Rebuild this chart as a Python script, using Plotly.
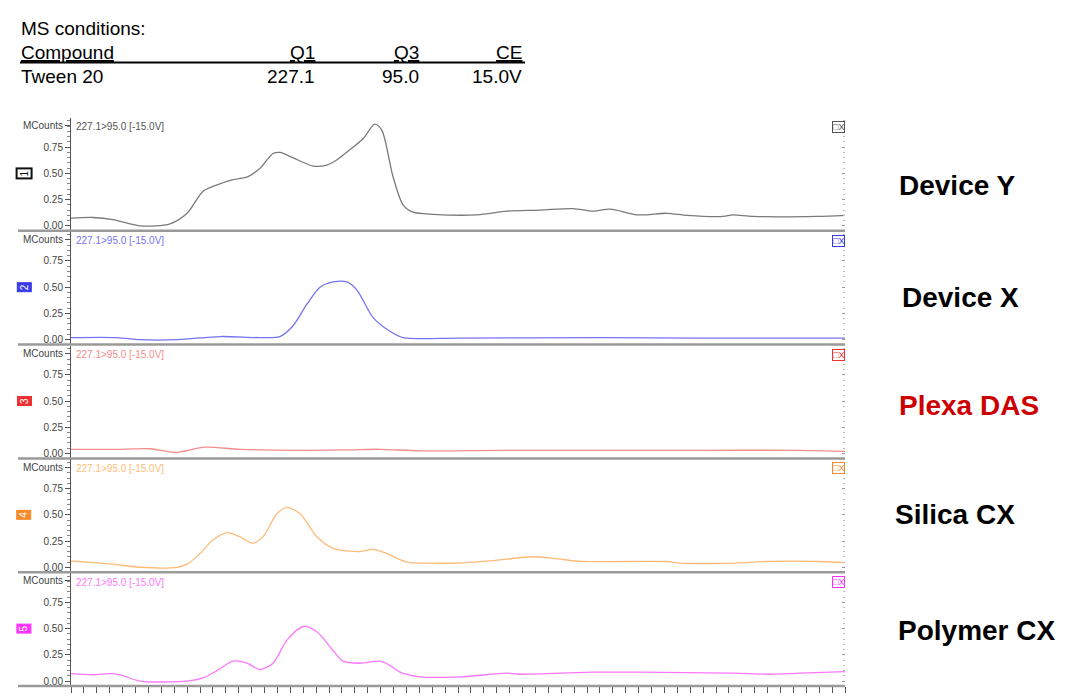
import plotly.graph_objects as go

# ---------------- data (retention time in min, intensity in MCounts) ----------------
samples = ["Device Y", "Device X", "Plexa DAS", "Silica CX", "Polymer CX"]
channel_ids = ["1", "2", "3", "4", "5"]
transition_label = "227.1>95.0 [-15.0V]"

t_devY = [0.0, 0.85, 1.63, 2.67, 3.84, 4.5, 5.12, 5.66, 6.28, 6.86, 7.33, 7.83, 8.1, 8.6, 9.38, 9.92,
          10.31, 10.93, 11.32, 11.78, 12.05, 12.48, 12.87, 13.26, 14.03, 15.74, 16.9, 18.18, 19.46,
          20.23, 20.9, 21.94, 23.1, 23.88, 25.27, 25.66, 26.43, 28.91, 30.0]
i_devY = [0.074, 0.08, 0.06, 0.0, 0.02, 0.12, 0.33, 0.39, 0.44, 0.47, 0.55, 0.69, 0.70, 0.65, 0.57, 0.58,
          0.63, 0.75, 0.83, 0.97, 0.91, 0.47, 0.20, 0.13, 0.11, 0.105, 0.14, 0.15, 0.165,
          0.14, 0.16, 0.105, 0.12, 0.10, 0.09, 0.105, 0.09, 0.09, 0.10]

t_devX = [0.0, 1.78, 2.67, 4.11, 5.78, 7.33, 8.1, 8.6, 9.15, 9.65, 10.16, 10.7, 11.09, 11.71, 12.36,
          12.87, 15.08, 20.5, 24.4, 30.0]
i_devX = [0.02, 0.02, 0.0, 0.0, 0.03, 0.02, 0.03, 0.13, 0.34, 0.50, 0.55, 0.55, 0.47, 0.21, 0.08,
          0.02, 0.015, 0.02, 0.015, 0.015]

t_plexa = [0.0, 1.9, 3.06, 4.03, 5.19, 6.55, 8.88, 10.81, 11.98, 13.53, 16.63, 20.5, 24.38, 28.26, 30.0]
i_plexa = [0.04, 0.04, 0.045, 0.01, 0.06, 0.04, 0.03, 0.035, 0.04, 0.025, 0.03, 0.03, 0.03, 0.03, 0.02]

t_silica = [0.0, 1.12, 1.63, 2.67, 4.11, 4.5, 5.0, 5.5, 6.05, 6.55, 7.05, 7.44, 7.98, 8.37, 8.88, 9.53,
            10.16, 11.2, 11.71, 12.25, 13.02, 14.03, 15.08, 16.24, 17.91, 18.84, 19.84, 23.1, 23.6,
            25.66, 26.98, 29.03, 30.0]
i_silica = [0.06, 0.04, 0.03, 0.0, 0.0, 0.03, 0.13, 0.26, 0.33, 0.29, 0.23, 0.29, 0.51, 0.57, 0.51, 0.29,
            0.18, 0.15, 0.17, 0.13, 0.05, 0.04, 0.04, 0.06, 0.10, 0.08, 0.055, 0.055, 0.04,
            0.04, 0.055, 0.055, 0.045]

t_polymer = [0.0, 0.85, 1.51, 1.9, 2.67, 4.5, 5.12, 5.66, 6.28, 6.82, 7.33, 7.83, 8.37, 9.0, 9.53, 10.16,
             10.54, 11.2, 11.98, 12.36, 12.75, 13.53, 15.08, 16.9, 17.4, 20.23, 22.05, 25.66, 26.98,
             28.26, 30.0]
i_polymer = [0.07, 0.06, 0.07, 0.06, 0.0, 0.0, 0.03, 0.10, 0.19, 0.17, 0.11, 0.17, 0.39, 0.52, 0.47, 0.29,
             0.19, 0.17, 0.19, 0.15, 0.085, 0.04, 0.04, 0.075, 0.065, 0.085, 0.085, 0.075, 0.065,
             0.075, 0.09]

y_tickvals = [0.0, 0.25, 0.5, 0.75]
y_ticktext = ["0.00", "0.25", "0.50", "0.75"]

header_cols = ["Compound", "Q1", "Q3", "CE"]
header_vals = ["Tween 20", "227.1", "95.0", "15.0V"]

# ---------------- styling ----------------
line_colors = ["#7a7a7a", "#7474f2", "#f58c8c", "#ffbb77", "#ff77ff"]
box_colors = ["#111111", "#3a3ae8", "#ee3030", "#f58a2a", "#ff33ff"]
label_colors = ["#000000", "#000000", "#cc0000", "#000000", "#000000"]

W, H = 1065, 697
L, R, T, B = 71, 845, 118, 692          # plot area in pixels
panel_px = [(118, 232), (233, 347), (348, 462), (463, 577), (578, 692)]


def px2x(px):
    return (px - L) / (R - L)


def px2y(py):
    return (B - py) / (B - T)


series_t = [t_devY, t_devX, t_plexa, t_silica, t_polymer]
series_i = [i_devY, i_devX, i_plexa, i_silica, i_polymer]

fig = go.Figure()
layout = dict(
    width=W, height=H,
    margin=dict(l=L, r=W - R, t=T, b=H - B),
    paper_bgcolor="white", plot_bgcolor="white",
    showlegend=False,
    font=dict(family="Liberation Sans, Arial, sans-serif", color="#444"),
)

annotations = []
shapes = []
yr = [-0.047, 1.028]

for k in range(5):
    n = "" if k == 0 else str(k + 1)
    nr = str(k + 6)
    top, bot = panel_px[k]
    dom = [px2y(bot), px2y(top)]
    fig.add_trace(go.Scatter(
        x=series_t[k], y=series_i[k], mode="lines",
        line=dict(color=line_colors[k], width=1.3, shape="spline", smoothing=0.8),
        xaxis="x" + n, yaxis="y" + n, hoverinfo="skip"))
    # invisible trace for right-side tick axis
    fig.add_trace(go.Scatter(x=[0], y=[0], mode="markers", marker=dict(opacity=0),
                             xaxis="x" + n, yaxis="y" + nr, hoverinfo="skip"))
    layout["xaxis" + n] = dict(
        domain=[0, 1], range=[0, 30], anchor="y" + n,
        showticklabels=False, showgrid=False, zeroline=False,
        showline=(k == 4), linecolor="#888", linewidth=1,
        ticks="outside" if k == 4 else "", dtick=0.5, tick0=0, ticklen=6, tickcolor="#555",
        matches="x" if k > 0 else None,
    )
    layout["yaxis" + n] = dict(
        domain=dom, range=yr, anchor="x" + n,
        tickvals=y_tickvals + [0.955], ticktext=y_ticktext + ["MCounts"],
        tickfont=dict(size=10, color="#444", family="Liberation Sans, Arial"),
        ticks="outside", ticklen=5, tickcolor="#555",
        minor=dict(dtick=0.05, tick0=0, ticks="outside", ticklen=3, tickcolor="#888"),
        showline=True, linecolor="#555", linewidth=1,
        showgrid=False, zeroline=False,
    )
    layout["yaxis" + nr] = dict(
        domain=dom, range=yr, anchor="x" + n, overlaying="y" + n, side="right",
        showticklabels=False, showgrid=False, zeroline=False, showline=False,
        tickvals=y_tickvals, ticks="inside", ticklen=3, tickcolor="#999",
        minor=dict(dtick=0.05, tick0=0, ticks="inside", ticklen=2, tickcolor="#bbb"),
    )
    # panel separator line
    shapes.append(dict(type="line", xref="paper", yref="paper",
                       x0=px2x(18), x1=1.0, y0=px2y(bot), y1=px2y(bot),
                       line=dict(color="#9a9a9a", width=2.5)))
    # transition label
    annotations.append(dict(xref="paper", yref="paper", x=px2x(74), y=px2y(top + 9),
                            xanchor="left", yanchor="middle", showarrow=False,
                            text=transition_label,
                            font=dict(size=10, color=line_colors[k] if k else "#555")))
    # channel number box
    is_first = k == 0
    annotations.append(dict(xref="paper", yref="y" + n, x=px2x(24), y=0.5,
                            xanchor="center", yanchor="middle", showarrow=False,
                            text=channel_ids[k], textangle=-90,
                            font=dict(size=10, color="#111" if is_first else "white"),
                            bgcolor="white" if is_first else box_colors[k],
                            bordercolor=box_colors[k], borderwidth=2 if is_first else 1,
                            borderpad=1))
    # top-right icon box
    annotations.append(dict(xref="paper", yref="paper", x=1.0, y=px2y(top + 9),
                            xanchor="right", yanchor="middle", showarrow=False,
                            text="□X", font=dict(size=9, color=box_colors[k] if k else "#555"),
                            bordercolor=box_colors[k] if k else "#555", borderwidth=1, borderpad=0,
                            bgcolor="rgba(255,255,255,0.8)"))
    # sample label on the right
    label_y = [186, 299, 409, 519, 636][k]
    label_x = [958, 960, 969, 955, 976][k]
    annotations.append(dict(xref="paper", yref="paper", x=px2x(label_x), y=px2y(label_y),
                            xanchor="center", yanchor="middle", showarrow=False,
                            text="<b>" + samples[k] + "</b>",
                            font=dict(size=28, color=label_colors[k],
                                      family="Liberation Sans, Arial, sans-serif")))

# ---------------- header table ----------------
hdr_font = dict(size=19, color="#000", family="Liberation Sans, Arial, sans-serif")
annotations.append(dict(xref="paper", yref="paper", x=px2x(19), y=px2y(28), xanchor="left",
                        yanchor="middle", showarrow=False, text="MS conditions:", font=hdr_font))
col_right = [None, 317, 421, 524]
for j, (c, v) in enumerate(zip(header_cols, header_vals)):
    if j == 0:
        xa, xx = "left", px2x(19)
    else:
        xa, xx = "right", px2x(col_right[j])
    annotations.append(dict(xref="paper", yref="paper", x=xx, y=px2y(52), xanchor=xa,
                            yanchor="middle", showarrow=False, text="<u>" + c + "</u>", font=hdr_font))
    annotations.append(dict(xref="paper", yref="paper", x=xx, y=px2y(76), xanchor=xa,
                            yanchor="middle", showarrow=False, text=v, font=hdr_font))
shapes.append(dict(type="line", xref="paper", yref="paper", x0=px2x(20), x1=px2x(525),
                   y0=px2y(62), y1=px2y(62), line=dict(color="#000", width=2)))

layout["annotations"] = annotations
layout["shapes"] = shapes
fig.update_layout(**layout)
fig.write_html("out.html", config={"displayModeBar": False},
               post_script="document.body.style.margin='0';")
